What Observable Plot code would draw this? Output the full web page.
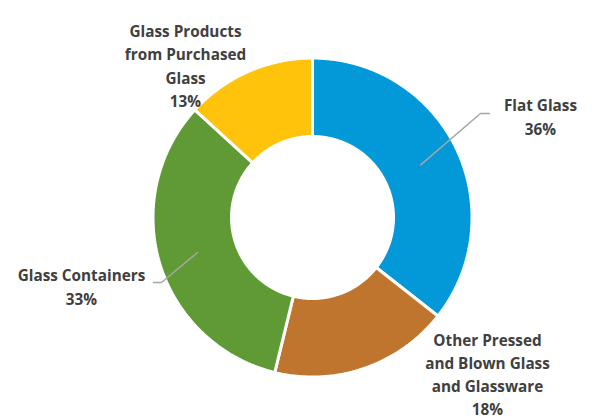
<!DOCTYPE html>
<html>
<head>
<meta charset="utf-8">
<script src="https://cdn.jsdelivr.net/npm/d3@7"></script>
<script src="https://cdn.jsdelivr.net/npm/@observablehq/plot@0.6"></script>
<style>
  html, body { margin: 0; padding: 0; background: #fff; }
  #chart svg { display: block; }
</style>
</head>
<body>
<div id="chart"></div>
<script>
// ---- data ----
const categories = ["Flat Glass", "Other Pressed and Blown Glass and Glassware", "Glass Containers", "Glass Products from Purchased Glass"];
const labelText = ["Flat Glass", "Other Pressed\nand Blown Glass\nand Glassware", "Glass Containers", "Glass Products\nfrom Purchased\nGlass"];
const shares = [35.6, 18.2, 33.0, 13.2];
const colors = ["#0398D8", "#C0752E", "#5F9A35", "#FFC30B"];

// ---- layout (pixel units relative to donut centre) ----
const W = 614, H = 418, CX = 312, CY = 217;
const R_OUT = 159.5, R_IN = 81;
const labelPos = [[228, -102], [175, 155.5], [-231, 68], [-127, -153]];
const elbows = [[[168, -104], [177, -104]], null, [[-151, 65], [-159, 65]], null];

const pie = d3.pie().sort(null).value(d => d).startAngle(0).endAngle(2 * Math.PI);
const arcs = pie(shares);

const pt = (a, r) => ({x: Math.sin(a) * r, y: -Math.cos(a) * r});

const poly = [];
arcs.forEach((a, i) => {
  const n = Math.max(4, Math.ceil((a.endAngle - a.startAngle) / 0.01));
  const pts = [];
  for (let k = 0; k <= n; k++) pts.push(pt(a.startAngle + (a.endAngle - a.startAngle) * k / n, R_OUT));
  for (let k = n; k >= 0; k--) pts.push(pt(a.startAngle + (a.endAngle - a.startAngle) * k / n, R_IN));
  pts.push(pts[0]);
  pts.forEach(p => poly.push({cat: categories[i], x: p.x, y: p.y}));
});

const leaders = [];
arcs.forEach((a, i) => {
  if (!elbows[i]) return;
  const mid = (a.startAngle + a.endAngle) / 2;
  const s = pt(mid, (R_IN + R_OUT) / 2);
  leaders.push({cat: categories[i], x: s.x, y: s.y});
  elbows[i].forEach(e => leaders.push({cat: categories[i], x: e[0], y: e[1]}));
});

const labels = arcs.map((a, i) => ({
  x: labelPos[i][0], y: labelPos[i][1],
  text: labelText[i] + "\n" + Math.round(shares[i]) + "%"
}));

const chart = Plot.plot({
  width: W, height: H,
  margin: 0,
  x: {domain: [-CX, W - CX], range: [0, W], axis: null},
  y: {domain: [-CY, H - CY], range: [0, H], axis: null},
  color: {domain: categories, range: colors},
  style: {fontFamily: "'Open Sans', sans-serif", background: "white"},
  marks: [
    Plot.line(poly, {x: "x", y: "y", z: "cat", fill: "cat", stroke: "white", strokeWidth: 3, curve: "linear", strokeLinejoin: "miter"}),
    Plot.line(leaders, {x: "x", y: "y", z: "cat", stroke: "#A6A6A6", strokeWidth: 1.5, curve: "linear"}),
    Plot.text(labels, {x: "x", y: "y", text: "text", fontSize: 15.3, fontWeight: "bold", fill: "#404040", lineHeight: 1.52, textAnchor: "middle", lineAnchor: "middle", fontFamily: "Open Sans"})
  ]
});
document.getElementById("chart").appendChild(chart);
</script>
</body>
</html>
